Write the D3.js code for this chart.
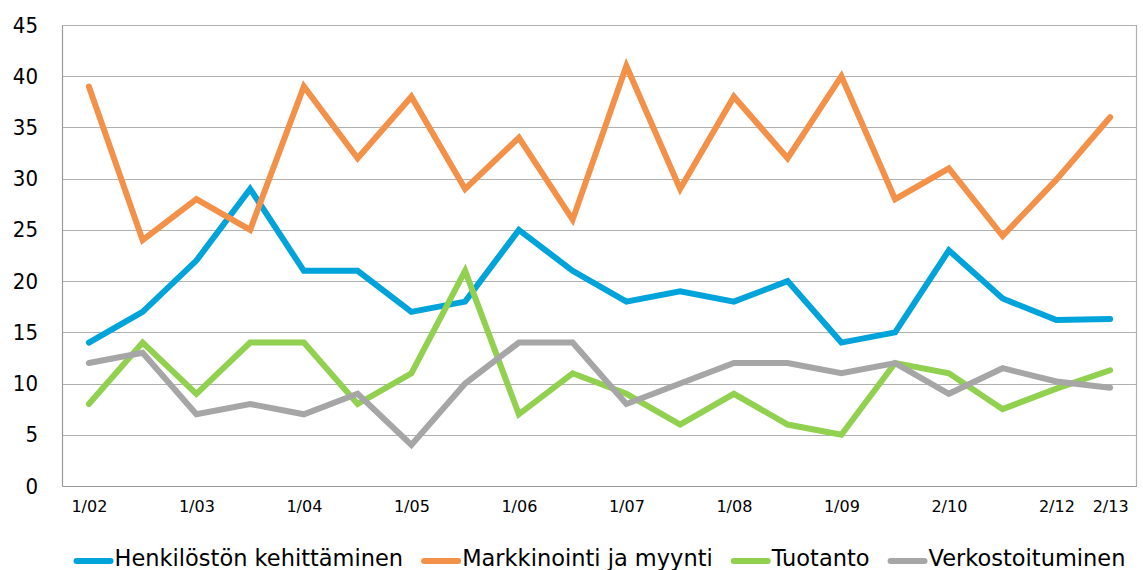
<!DOCTYPE html>
<html>
<head>
<meta charset="utf-8">
<script src="https://cdn.jsdelivr.net/npm/d3@7"></script>
<style>
  body { margin: 0; background: #fff; }
  text { font-family: "DejaVu Sans", sans-serif; fill: #000; }
</style>
</head>
<body>
<div id="chart"></div>
<script>
// data
const periods = ["1/02", "2/02", "1/03", "2/03", "1/04", "2/04", "1/05", "2/05", "1/06", "2/06",
  "1/07", "2/07", "1/08", "2/08", "1/09", "2/09", "2/10", "2/11", "2/12", "2/13"];
const shownLabels = ["1/02", "1/03", "1/04", "1/05", "1/06", "1/07", "1/08", "1/09", "2/10", "2/12", "2/13"];

const henkilosto = [14, 17, 22, 29, 21, 21, 17, 18, 25, 21, 18, 19, 18, 20, 14, 15, 23, 18.3, 16.2, 16.3];
const markkinointi = [39, 24, 28, 25, 39, 32, 38, 29, 34, 26, 41, 29, 38, 32, 40, 28, 31, 24.4, 29.9, 36];
const tuotanto = [8, 14, 9, 14, 14, 8, 11, 21, 7, 11, 9, 6, 9, 6, 5, 12, 11, 7.5, 9.5, 11.3];
const verkosto = [12, 13, 7, 8, 7, 9, 4, 10, 14, 14, 8, 10, 12, 12, 11, 12, 9, 11.5, 10.2, 9.6];

const seriesNames = ["Henkilöstön kehittäminen", "Markkinointi ja myynti", "Tuotanto", "Verkostoituminen"];
const seriesColors = ["#00a3da", "#f39149", "#92d050", "#a6a6a6"];
const seriesValues = [henkilosto, markkinointi, tuotanto, verkosto];

const yTicks = [0, 5, 10, 15, 20, 25, 30, 35, 40, 45];

const W = 1143, H = 570;
const margin = { top: 25, right: 6, bottom: 84, left: 62 };
const width = W - margin.left - margin.right;
const height = H - margin.top - margin.bottom;

const svg = d3.select("#chart").append("svg")
  .attr("width", W).attr("height", H);

const g = svg.append("g").attr("transform", `translate(${margin.left},${margin.top})`);

const x = d3.scalePoint().domain(periods).range([0, width]).padding(0.5);
const y = d3.scaleLinear().domain([0, 45]).range([height, 0]);

// gridlines
g.append("g").selectAll("line").data(yTicks.filter(d => d > 0)).join("line")
  .attr("x1", 0).attr("x2", width)
  .attr("y1", d => Math.round(y(d)) + 0.5).attr("y2", d => Math.round(y(d)) + 0.5)
  .attr("stroke", "#b0b0b0").attr("stroke-width", 1.2);

// right border
g.append("line")
  .attr("x1", width - 0.5).attr("x2", width - 0.5).attr("y1", 0).attr("y2", height)
  .attr("stroke", "#b0b0b0").attr("stroke-width", 1.2);

// y axis
const yAxis = g.append("g").call(d3.axisLeft(y).tickValues(yTicks).tickSize(0).tickPadding(24));
yAxis.select(".domain").attr("stroke", "#9a9a9a").attr("stroke-width", 1.2);
yAxis.selectAll("text")
  .style("font-family", "'DejaVu Sans Condensed', 'DejaVu Sans', sans-serif")
  .style("font-size", "22px");

// x axis
const xAxis = g.append("g").attr("transform", `translate(0,${height})`)
  .call(d3.axisBottom(x).tickSize(0).tickPadding(15)
    .tickFormat(d => shownLabels.includes(d) ? d : ""));
xAxis.select(".domain").attr("stroke", "#9a9a9a").attr("stroke-width", 1.2)
  .attr("d", `M0.5,0.5H${width}`);
xAxis.selectAll("text").style("font-size", "16px");

// lines
const line = d3.line()
  .x((d, i) => x(periods[i]))
  .y(d => y(d));

g.selectAll(".series").data(seriesValues).join("path")
  .attr("class", "series")
  .attr("fill", "none")
  .attr("stroke", (d, i) => seriesColors[i])
  .attr("stroke-width", 6)
  .attr("stroke-linecap", "round")
  .attr("stroke-linejoin", "miter")
  .attr("d", line);

// legend
const legend = svg.append("g");
let lx = 0;
seriesNames.forEach((name, i) => {
  const item = legend.append("g").attr("transform", `translate(${lx},0)`);
  item.append("line")
    .attr("x1", 3).attr("x2", 37).attr("y1", 0).attr("y2", 0)
    .attr("stroke", seriesColors[i]).attr("stroke-width", 6).attr("stroke-linecap", "round");
  const t = item.append("text")
    .attr("x", 41).attr("y", 5)
    .style("font-size", "22.5px")
    .text(name);
  lx += 41 + t.node().getComputedTextLength() + 18;
});
lx -= 18;
legend.attr("transform", `translate(${(margin.left + margin.left + width) / 2 - lx / 2},561)`);
</script>
</body>
</html>
